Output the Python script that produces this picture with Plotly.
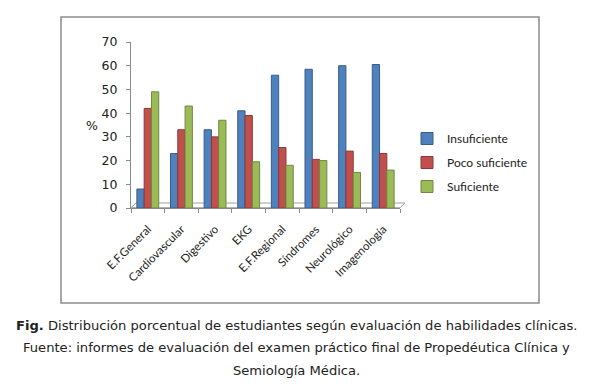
import plotly.graph_objects as go

categories = ["E.F.General", "Cardiovascular", "Digestivo", "EKG", "E.F.Regional",
              "Síndromes", "Neurológico", "Imagenología"]
insuficiente = [8, 23, 33, 41, 56, 58.5, 60, 60.5]
poco_suficiente = [42, 33, 30, 39, 25.5, 20.5, 24, 23]
suficiente = [49, 43, 37, 19.5, 18, 20, 15, 16]
y_ticks = [0, 10, 20, 30, 40, 50, 60, 70]

# page body has an 8px margin, so the figure is drawn 8px in from the window edge
OFF = 8
W, H = 593 - OFF, 389 - OFF
L, R, T, B = 131 - OFF, 193, 42 - OFF, 181
PW, PH = W - L - R, H - T - B


def px(x):
    return (x - OFF - L) / PW


def py(y):
    return (H - B - (y - OFF)) / PH


series = [
    ("Insuficiente", insuficiente, "#4F81BD", "#385D8A"),
    ("Poco suficiente", poco_suficiente, "#C0504D", "#8C3836"),
    ("Suficiente", suficiente, "#9BBB59", "#71893F"),
]

fig = go.Figure()
for name, vals, col, dark in series:
    fig.add_trace(go.Bar(
        x=categories, y=vals, name=name, legendgroup=name,
        marker=dict(color=col, line=dict(color=dark, width=1)),
    ))

fig.update_layout(
    width=W, height=H,
    margin=dict(l=L, r=R, t=T, b=B),
    paper_bgcolor="white", plot_bgcolor="white",
    barmode="group", bargap=0.35, bargroupgap=0,
    font=dict(family="Lato", size=11, color="#222"),
    showlegend=True,
    legend=dict(x=px(407), y=py(124), xanchor="left", yanchor="top",
                font=dict(family="Lato", size=12, color="#222"),
                tracegroupgap=5, itemwidth=30, bgcolor="rgba(0,0,0,0)"),
)
fig.update_yaxes(range=[0, 70], tickvals=y_ticks, showgrid=False, zeroline=False,
                 showline=True, linecolor="#8a8a8a", linewidth=1,
                 ticks="outside", ticklen=4, tickcolor="#8a8a8a", ticklabelstandoff=6,
                 tickfont=dict(family="DejaVu Sans", size=12.5, color="#222"))
fig.update_xaxes(showgrid=False, showline=True, linecolor="#8a8a8a", linewidth=1,
                 ticks="outside", ticklen=4, tickcolor="#8a8a8a", tickson="boundaries",
                 ticklabelstandoff=9,
                 tickangle=-45, tickfont=dict(family="Lato", size=11.5, color="#222"))

# 3D floor outline
fig.add_shape(type="path", xref="paper", yref="paper",
              path=f"M {px(131)},{py(207.7)} L {px(400)},{py(207.7)} L {px(405)},{py(203)} L {px(136)},{py(203)} Z",
              line=dict(color="#a0a0a0", width=1), layer="below")
# chart border
fig.add_shape(type="rect", xref="paper", yref="paper",
              x0=px(61), x1=px(539), y0=py(303), y1=py(17),
              line=dict(color="#8a8a8a", width=1.5))

fig.add_annotation(text="%", xref="paper", yref="paper", x=px(84), y=py(125),
                   showarrow=False, font=dict(family="DejaVu Sans", size=12.5, color="#222"))

caption = [
    "<b>Fig.</b> Distribución porcentual de estudiantes según evaluación de habilidades clínicas.",
    "Fuente: informes de evaluación del examen práctico final de Propedéutica Clínica y",
    "Semiología Médica.",
]
for i, line in enumerate(caption):
    fig.add_annotation(text=line, xref="paper", yref="paper", x=px(296.5), y=py(325 + 22.5 * i),
                       xanchor="center", yanchor="middle", showarrow=False,
                       font=dict(family="DejaVu Sans", size=13.1, color="#222"))

fig.write_html("out.html")
